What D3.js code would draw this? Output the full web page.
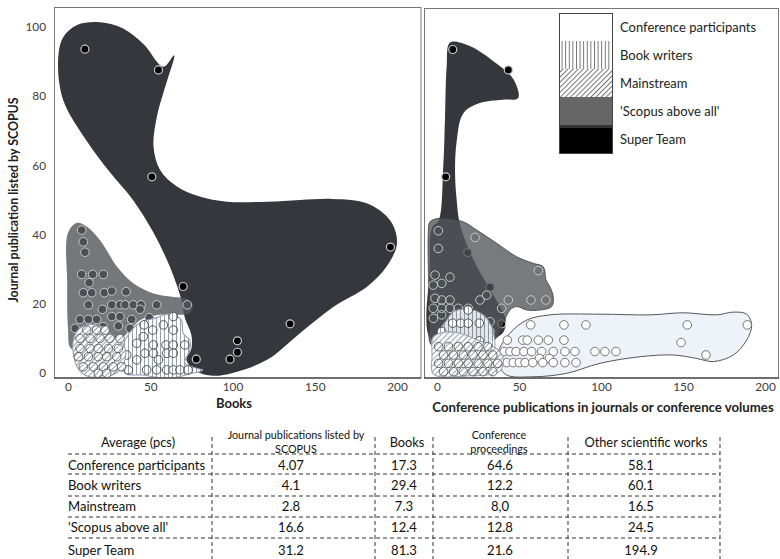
<!DOCTYPE html>
<html><head><meta charset="utf-8">
<script src="https://cdn.jsdelivr.net/npm/d3@7"></script>
<style>body{margin:0;background:#fff}svg{display:block}text{font-family:Lato,"Open Sans",sans-serif}</style>
</head><body>
<script>
// ---------- DATA ----------
const xTicks = [0,50,100,150,200];
const yTicks = [0,20,40,60,80,100];
const groups = ["Conference participants","Book writers","Mainstream","'Scopus above all'","Super Team"];

// Left panel (x = Books, y = Journal publications)
const superLeftBlob = [[19.5,101.4],[33.5,99.6],[46,95],[58,88.5],[64.5,91.8],[61,85.6],[58,81],[54,74],[52,65.4],[56,58.7],[66,54],[80,51],[96.5,49.5],[121,49.5],[141,50],[161,50.3],[182,49],[196,44],[200,37.5],[194,31],[182,25],[161,19],[141,11.5],[121,3.8],[100,0],[88,-0.8],[78,0.5],[72,3.8],[75,7],[75,11],[71,16],[69,21],[62,30.6],[52,40.5],[39.5,50],[25.5,58],[11.5,67],[-3,79],[-6,90.5],[-3,97],[5.5,100.6]];
const superLeftPts = [[10.3,93.6],[55,87.6],[51,56.7],[70,25],[196,36.4],[135,14.2],[103,9.3],[103,6],[98.5,4],[78,4]];
const scopusLeftBlob = [[5.5,43.4],[11.5,42.3],[19.5,38.4],[30,30.6],[39.5,26],[52,23],[64,22],[72,21.5],[76,19.5],[74,17.3],[68,16.8],[56,16.8],[44,15.3],[37.7,12.4],[30,9],[15,8],[2,7],[0,13],[-0.5,26],[0,40.5]];
const scopusLeftPts = [[8.3,41.3],[9.3,37.9],[10.3,34.9],[8.3,28.5],[15,28.5],[21.5,28.5],[12.8,26.1],[9.3,23.2],[14.4,23.2],[22.1,23.2],[26.6,23.7],[35.3,23.5],[12.4,19.7],[20.9,18.4],[26.6,19.7],[31.6,19.7],[34.7,19.7],[39.7,19.7],[44.4,19.7],[43.8,18.4],[53.9,19.7],[72.5,19.7],[7.3,15.5],[12.4,15.5],[17.4,15.5],[26.6,16.3],[31.6,16.3],[38.7,15.5],[49.4,16],[4.3,12.9],[21.5,13.4],[30.6,13.6],[37.7,12.9],[43.8,11]];
const bookLeftBlob = [[36.5,11],[43.8,14.5],[54,16],[60,17],[64,16.8],[69,15.3],[70,11.5],[74,9.5],[74,6.6],[71,2.9],[78,1.4],[82,0.9],[74,-0.3],[64,-1.4],[56,-1.4],[45.6,-0.6],[34.7,0],[33.4,7.5]];
const bookLeftPts = [[46.2,13.9],[51.5,12.4],[58,13.9],[64,16.3],[64,12.4],[41.8,8.6],[45.8,10.5],[51.9,8.1],[59.6,8.1],[64,8.1],[71,8.1],[35.7,5.2],[41.8,3.8],[46.8,5.7],[51.9,5.7],[55,3.8],[60,5.7],[64,5.7],[36.7,0.9],[47.8,0.9],[53.9,0.9],[60,0.9],[64,0.9],[68,0.9],[73,0.9]];
const mainLeftBlob = [[12,14],[20,13.5],[25.5,11.5],[32,9],[35,6.6],[34,3],[30,0.3],[19.5,-1.4],[10,-0.5],[5.5,1.7],[3,8.6],[6,12.4]];
const mainLeftPts = [[11.4,12.4],[17.4,12.4],[22.5,12.4],[7.3,10],[13.4,10],[19.5,10],[25.5,10],[31.6,10],[7.3,7.1],[13.4,7.1],[18.4,7.1],[24.5,7.1],[30.6,7.1],[6.3,4.7],[12.4,4.7],[18.4,4.7],[23.5,4.7],[29.6,4.7],[9.3,1.8],[15.4,1.8],[21.5,1.8],[27.5,1.8],[32.6,1.8],[18.4,-0.1],[23.5,-0.1]];

// Right panel (x = Conference publications, y = Journal publications)
const superRightBlob = [[8,95.5],[20,94.5],[36,89.5],[46.5,85],[49.5,79.5],[40,79],[26,78],[16,75],[12,67],[11,58],[12,50],[14,43],[22,33],[30,26],[38,19.5],[42,15],[40,11.5],[34,10],[26,10],[10,9],[-4,10],[-4.5,30],[-3,42],[1,44],[3.8,59.6],[4.9,74],[5.9,88.5]];
const superRightPts = [[9.6,93.5],[43.5,87.6],[5.3,56.7],[18.7,34.8],[32.3,24.8],[39.4,14.2],[14,9.3],[20,6],[10,4],[25,4]];
const scopusRightBlob = [[-4.3,43.7],[1.8,44.7],[16,43.7],[24.2,41.3],[36.4,37.5],[48.6,33.6],[58.7,31.7],[64.8,30.7],[66.5,26.9],[68.9,24.9],[70.9,22],[69.9,19.2],[62.8,18.2],[54.7,18.2],[48.6,19.2],[44.5,18.2],[40,14],[36,10],[20,8],[-3.2,8],[-4.3,16.3],[-5.3,30.7],[-5.3,40.4]];
const scopusRightPts = [[0.8,41.1],[23.2,39.2],[0.8,36],[61.8,29.6],[-1.2,28.3],[7.9,27.7],[-2.3,25.4],[2.9,25.9],[30.3,22.5],[26.2,21.1],[43.5,21.1],[57.3,21.1],[66.3,21.1],[-1.2,21.6],[2.9,21.1],[7.9,21.1],[-2.3,18.7],[2.9,18.7],[7.9,18.7],[13,18.7],[19.1,18.7],[39.4,18.7],[-2.2,15.8],[2.8,16.8],[32.3,14.8],[32.3,12]];
const confRightBlob = [[44.5,11.5],[54.7,15.3],[68.9,16.8],[99.4,17],[130,16.8],[150,17.4],[170.5,16.8],[180.7,17.6],[188.8,17],[191.9,13.9],[188.8,9.5],[180.7,5.2],[168.5,3.3],[158.4,4.2],[144.1,5.2],[123.8,4.7],[99.4,2.8],[79,-0.1],[58.7,-1.1],[42.5,-0.6],[38.4,1.8],[37.4,6]];
const confRightPts = [[57.1,13.9],[77.4,13.9],[90.8,13.9],[152.6,13.9],[189.2,13.9],[42.9,9.5],[52.3,9.5],[55,9.5],[61.8,9.5],[67.9,9.5],[77.4,9.5],[148.8,8.8],[40.9,6.2],[44.5,6.2],[48.2,6.2],[53,6.2],[57.7,6.2],[63.8,6.2],[70.9,6.2],[78,6.2],[84.1,6.2],[96.3,6.2],[102.4,6.2],[109.1,6.2],[164,5.2],[62.4,4.2],[68.5,4.2],[42.5,3],[46.5,3],[50.2,3],[53.7,3],[58.4,3],[64.5,3],[70.9,3],[78,3],[84.8,3]];
const bookRightBlob = [[9.9,17.7],[19,18.5],[28.2,16.8],[33.3,13.4],[35.4,7.6],[33.3,3.8],[20,3],[2,4],[0.8,11.5],[5.9,15.3]];
const bookRightPts = [[19,18.2],[9.6,14.4],[14.4,14.4],[19,14.4],[25.8,14.4],[2.8,12],[7.6,9.3],[15.9,9.3],[25.8,9.3],[25.8,5.9]];
const mainRightBlob = [[-2.2,10.5],[5,11.8],[14,11.5],[25,9.5],[36.4,7],[40.5,4],[38,0.4],[20,-0.8],[-2.2,-0.3],[-3,5]];
const mainRightPts = [[1,7.6],[7,7.6],[13,7.6],[19,7.6],[25,7.6],[31,7.6],[4,5.2],[10,5.2],[16,5.2],[22,5.2],[28,5.2],[34,5.2],[1,2.8],[7,2.8],[13,2.8],[19,2.8],[25,2.8],[31,2.8],[37,2.8],[4,0.4],[10,0.4],[16,0.4],[22,0.4],[28,0.4],[34,0.4]];

// Table
const tableHeader = ["Average (pcs)","Journal publications listed by|SCOPUS","Books","Conference|proceedings","Other scientific works"];
const tableRows = ["Conference participants","Book writers","Mainstream","'Scopus above all'","Super Team"];
const colJournal = ["4.07","4.1","2.8","16.6","31.2"];
const colBooks = ["17.3","29.4","7.3","12.4","81.3"];
const colConf = ["64.6","12.2","8,0","12.8","21.6"];
const colOther = ["58.1","60.1","16.5","24.5","194.9"];

// ---------- DRAW ----------
const svg = d3.select("body").append("svg").attr("width",780).attr("height",559);
const defs = svg.append("defs");
function stripe(id, color, w, rot){
  const p = defs.append("pattern").attr("id",id).attr("patternUnits","userSpaceOnUse")
    .attr("width",w).attr("height",w);
  if(rot) p.attr("patternTransform","rotate("+rot+")");
  p.append("rect").attr("width",w).attr("height",w).attr("fill","#fff");
  p.append("line").attr("x1",0.5).attr("x2",0.5).attr("y1",0).attr("y2",w).attr("stroke",color).attr("stroke-width",0.8);
}
stripe("vs","#7c8694",4,0);
stripe("hs","#7c8694",4,45);
stripe("vsL","#555",3.6,0);
stripe("hsL","#555",3.6,45);

const y = d3.scaleLinear().domain([0,100]).range([373,27]);
const xL = d3.scaleLinear().domain([0,200]).range([68,397]);
const xR = d3.scaleLinear().domain([0,200]).range([437,765]);

function panel(id, x0, y0, x1, y1){
  defs.append("clipPath").attr("id",id).append("rect").attr("x",x0).attr("y",y0).attr("width",x1-x0).attr("height",y1-y0);
  const g = svg.append("g").attr("clip-path","url(#"+id+")");
  return g;
}
const gL = panel("cL",54,7,421,378);
const gR = panel("cR",424,8,779,378);

function blob(g, x, pts, fill, stroke, extra){
  const line = d3.line().x(d=>x(d[0])).y(d=>y(d[1])).curve(d3.curveCatmullRomClosed.alpha(0.5));
  const p = g.append("path").attr("d",line(pts)).attr("fill",fill).attr("stroke",stroke||"none").attr("stroke-width",1.1);
  if(extra) extra(p);
  return p;
}
function dots(g, x, pts, fill, stroke, sw, r, fo){
  g.selectAll(null).data(pts).enter().append("circle")
    .attr("cx",d=>x(d[0])).attr("cy",d=>y(d[1])).attr("r",r||4.3)
    .attr("fill",fill).attr("fill-opacity",fo==null?1:fo).attr("stroke",stroke).attr("stroke-width",sw||1);
}
const DARK="#34373c";
// Left panel
blob(gL,xL,superLeftBlob,DARK,null);
dots(gL,xL,superLeftPts,"#000","#c8c8c8",1.2,4);
blob(gL,xL,scopusLeftBlob,"#52565a",null,p=>p.attr("fill-opacity",0.8));
dots(gL,xL,scopusLeftPts,"#4c4f53","#c9c9c9",1,4.3);
blob(gL,xL,bookLeftBlob,"url(#vs)","#8fa0b6");
dots(gL,xL,bookLeftPts,"url(#vs)","#444",0.9,4.3);
blob(gL,xL,mainLeftBlob,"url(#hs)","#8fa0b6");
dots(gL,xL,mainLeftPts,"url(#hs)","#555",0.9,4.3);
// Right panel
blob(gR,xR,superRightBlob,DARK,null);
dots(gR,xR,superRightPts,"#000","#c8c8c8",1.2,4);
blob(gR,xR,scopusRightBlob,"#52565a","#3a3d42",p=>p.attr("fill-opacity",0.78).attr("stroke-width",0.8));
dots(gR,xR,scopusRightPts,"#4c4f53","#c9c9c9",1,4.3,0.15);
blob(gR,xR,confRightBlob,"#eef3f9","#444",p=>p.attr("stroke-width",0.9));
dots(gR,xR,confRightPts,"#fff","#666",0.9,4.3);
blob(gR,xR,bookRightBlob,"url(#vs)","#8fa0b6",p=>p.attr("opacity",0.85));
dots(gR,xR,bookRightPts,"url(#vs)","#444",0.9,4.3);
blob(gR,xR,mainRightBlob,"url(#hs)","#8fa0b6",p=>p.attr("opacity",0.92));
dots(gR,xR,mainRightPts,"url(#hs)","#555",0.9,4.3);

// Frames
svg.append("rect").attr("x",54.5).attr("y",7.5).attr("width",366.5).attr("height",370.5).attr("fill","none").attr("stroke","#777").attr("stroke-width",1);
svg.append("rect").attr("x",424.5).attr("y",8.5).attr("width",354).attr("height",369.5).attr("fill","none").attr("stroke","#777").attr("stroke-width",1);
svg.append("line").attr("x1",54).attr("x2",421).attr("y1",378).attr("y2",378).attr("stroke","#555").attr("stroke-width",1.5);
svg.append("line").attr("x1",424).attr("x2",779).attr("y1",378).attr("y2",378).attr("stroke","#555").attr("stroke-width",1.5);

// Axes
function styleAxis(g){ g.select(".domain").remove(); g.selectAll("text").attr("font-size",11.8).attr("fill","#404040").attr("font-family","Lato, sans-serif"); }
svg.append("g").attr("transform","translate(0,378)").call(d3.axisBottom(xL).tickValues(xTicks).tickSize(0).tickPadding(5)).call(styleAxis);
svg.append("g").attr("transform","translate(0,378)").call(d3.axisBottom(xR).tickValues(xTicks).tickSize(0).tickPadding(5)).call(styleAxis);
svg.append("g").attr("transform","translate(54,0)").call(d3.axisLeft(y).tickValues(yTicks).tickSize(0).tickPadding(8)).call(styleAxis);

svg.append("text").attr("x",234).attr("y",408).attr("text-anchor","middle").attr("font-weight","bold").attr("font-size",13).attr("fill","#222").text("Books");
svg.append("text").attr("x",603).attr("y",412).attr("text-anchor","middle").attr("font-weight","bold").attr("font-size",13.2).attr("fill","#222").text("Conference publications in journals or conference volumes");
svg.append("text").attr("transform","translate(18,200) rotate(-90)").attr("text-anchor","middle").attr("font-weight","bold").attr("font-size",12.4).attr("fill","#222").text("Journal publication listed by SCOPUS");

// Legend
const legFills = ["#fff","url(#vsL)","url(#hsL)","#666","#000"];
const lg = svg.append("g");
groups.forEach((name,i)=>{
  lg.append("rect").attr("x",559).attr("y",13+i*28).attr("width",53).attr("height",28).attr("fill",legFills[i]);
  lg.append("text").attr("x",620).attr("y",27+i*28.2).attr("dy","0.35em").attr("font-size",13).attr("fill","#222").text(name);
});
lg.append("rect").attr("x",559).attr("y",125).attr("width",53).attr("height",3).attr("fill","#333");
lg.append("rect").attr("x",559.5).attr("y",13.5).attr("width",53).attr("height",140).attr("fill","none").attr("stroke","#444");

// Table
const tg = svg.append("g").attr("fill","#111");
const hLines = [454,474,496,517,538];
const vLines = [212,375,433,568,720];
hLines.forEach(v=>tg.append("line").attr("x1",68).attr("x2",720).attr("y1",v).attr("y2",v).attr("stroke","#333").attr("stroke-dasharray","4,3").attr("stroke-width",1));
vLines.forEach(v=>tg.append("line").attr("x1",v).attr("x2",v).attr("y1",437).attr("y2",559).attr("stroke","#333").attr("stroke-dasharray","4,3").attr("stroke-width",1));
const colCenters = [138,296,407,499,646];
tableHeader.forEach((h,i)=>{
  const parts = h.split("|");
  if(parts.length===1){
    tg.append("text").attr("x",colCenters[i]).attr("y",443).attr("dy","0.35em").attr("text-anchor","middle").attr("font-size",12.8).text(h);
  } else {
    parts.forEach((p,j)=>tg.append("text").attr("x",colCenters[i]).attr("y",435+j*14.5).attr("dy","0.35em").attr("text-anchor","middle").attr("font-size",10.8).text(p));
  }
});
const rowY = [465,485,506,527,550];
const valCenters = [291,404,500,641];
const cols = [colJournal,colBooks,colConf,colOther];
tableRows.forEach((r,i)=>{
  tg.append("text").attr("x",68).attr("y",rowY[i]).attr("dy","0.35em").attr("font-size",13.1).text(r);
  cols.forEach((c,j)=>tg.append("text").attr("x",valCenters[j]).attr("y",rowY[i]).attr("dy","0.35em").attr("text-anchor","middle").attr("font-size",13.1).text(c[i]));
});
</script>
</body></html>
